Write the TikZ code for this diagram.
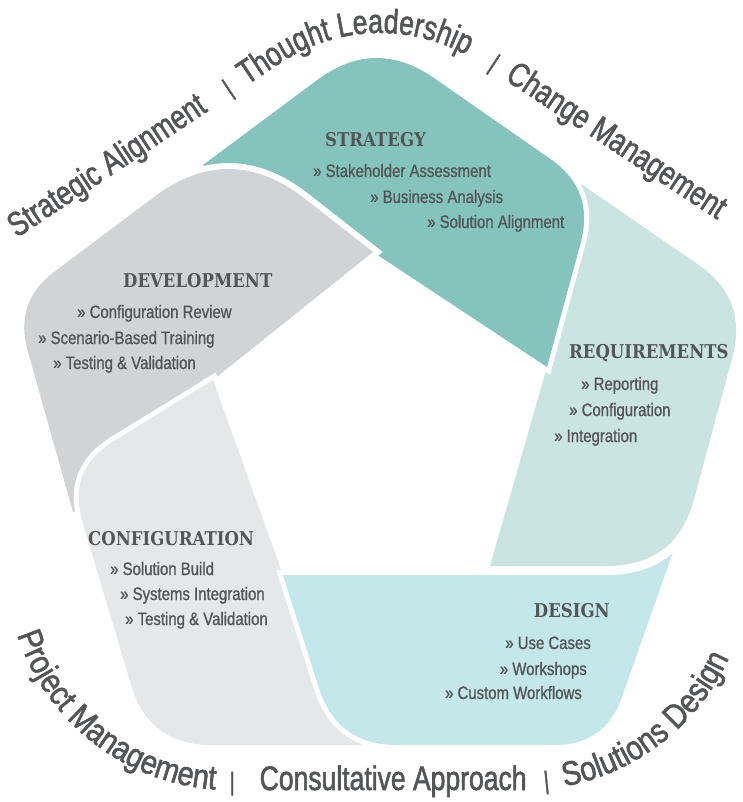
\documentclass[tikz,border=0pt]{standalone}
\usepackage{fontspec}
\usetikzlibrary{calc,decorations.text}
\newfontfamily\arcfont[FakeStretch=0.78,FakeBold=1.6]{Liberation Sans}
\newfontfamily\arcfontw[FakeStretch=0.85,FakeBold=1.6]{Liberation Sans}
\newfontfamily\itemfont[FakeStretch=0.83,FakeBold=0.9]{Liberation Sans}
\newfontfamily\headfont[FakeStretch=0.87]{DejaVu Serif}
\definecolor{txtc}{HTML}{545557}
\definecolor{cstrat}{HTML}{84C4BD}
\definecolor{creq}{HTML}{CAE4E1}
\definecolor{cdes}{HTML}{C4E7EA}
\definecolor{cconf}{HTML}{E6E7E8}
\definecolor{cdev}{HTML}{D1D3D4}
% rounded corner at #2 between #1 and #3, inset #4, control #5
\def\rc#1#2#3#4#5{-- ($(#2)!#4pt!(#1)$) .. controls ($(#2)!#5pt!(#1)$) and ($(#2)!#5pt!(#3)$) .. ($(#2)!#4pt!(#3)$)}
\def\arcf{\arcfont\fontsize{34}{36}\selectfont}
\def\arcfw{\arcfontw\fontsize{34}{36}\selectfont}
\def\barf{\arcfont\fontsize{25}{27}\selectfont}
\begin{document}
\begin{tikzpicture}[x=1pt,y=-1pt,
  head/.style={anchor=base west, inner sep=0pt, text=txtc, font=\headfont\bfseries\fontsize{19}{21}\selectfont},
  itm/.style={anchor=base west, inner sep=0pt, text=txtc, font=\itemfont\fontsize{18}{20}\selectfont},
  halo/.style={fill=white, draw=white, line width=#1},
  arctext/.style 2 args={decorate, decoration={text along path, text color=txtc, text={|\arcf|#2}, text align={left indent=#1}}},
  arctextw/.style 2 args={decorate, decoration={text along path, text color=txtc, text={|\arcfw|#2}, text align={left indent=#1}}},
  arcbar/.style={decorate, decoration={text along path, text color=txtc, text format delimiters={[}{]}, text={[\barf]|}, text align={left indent=#1}}}]
\useasboundingbox (0,0) rectangle (743,802);
% strategy
\coordinate (SL) at (203,165);
\coordinate (ST) at (375,37);
\coordinate (SR) at (595,190);
\coordinate (SB) at (547,367);
\coordinate (SD) at (373,252);
\coordinate (SU1) at (300,215);
\coordinate (SU2) at (215,180);
% development
\coordinate (DT) at (230,140);
\coordinate (DL) at (14,302);
\coordinate (DB) at (73,512);
\coordinate (DU) at (120,500);
\coordinate (CT) at (213,380);
% configuration
\coordinate (CL) at (67,470);
\coordinate (CBL) at (149,745);
\coordinate (CBR) at (363,745);
\coordinate (CU) at (335,690);
\coordinate (DTL) at (283,575);
% design
\coordinate (EU) at (600,575);
\coordinate (ETR) at (678,538);
\coordinate (EBR) at (605,745);
\coordinate (EBL) at (337,745);
% requirements
\coordinate (RBL) at (490,566);
\coordinate (RU1) at (549,360);
\coordinate (RU2) at (565,230);
\coordinate (RTL) at (555,166);
\coordinate (RTR) at (748,299);
\coordinate (RBR) at (676,566);

\def\strpath{(SL) \rc{SL}{ST}{SR}{72}{24} \rc{ST}{SR}{SB}{55}{18} -- (SB) -- (SD) -- (SU1) -- (SU2) -- cycle}
\def\devpath{(SD) \rc{SD}{DT}{DL}{95}{32} \rc{DT}{DL}{DB}{50}{17} -- (DB) -- (DU) -- (CT) -- cycle}
\def\confpath{(CT) \rc{CT}{CL}{CBL}{55}{18} \rc{CL}{CBL}{CBR}{62}{21} -- (CBR) -- (CU) -- (DTL) -- cycle}
\def\despath{(DTL) -- (EU) -- (ETR) \rc{ETR}{EBR}{EBL}{50}{17} \rc{EBR}{EBL}{DTL}{60}{20} -- cycle}
\def\reqpath{(RBL) -- (RU1) -- (RU2) -- (RTL) \rc{RTL}{RTR}{RBR}{60}{20} \rc{RTR}{RBR}{RBL}{70}{23} -- cycle}

\fill[cstrat] \strpath;
\path[halo=12pt] \devpath; \fill[cdev] \devpath;
\path[halo=10pt] \confpath; \fill[cconf] \confpath;
\path[halo=10pt] \despath; \fill[cdes] \despath;
\path[halo=18pt] \reqpath; \fill[creq] \reqpath;
\begin{scope}
  \clip (470,0) rectangle (743,420);
  \path[halo=10pt] \strpath; \fill[cstrat] \strpath;
\end{scope}

% texts
\node[head] (hstrat) at (325,147) {STRATEGY};
\node[itm] (s1) at (313,177) {» Stakeholder Assessment};
\node[itm] (s2) at (370,203) {» Business Analysis};
\node[itm] (s3) at (427,228) {» Solution Alignment};

\node[head] (hdev) at (123,287) {DEVELOPMENT};
\node[itm] (d1) at (77,318) {» Configuration Review};
\node[itm] (d2) at (38,344) {» Scenario-Based Training};
\node[itm] (d3) at (53,369) {» Testing \& Validation};

\node[head] (hreq) at (569,358) {REQUIREMENTS};
\node[itm] (r1) at (581,390) {» Reporting};
\node[itm] (r2) at (569,416) {» Configuration};
\node[itm] (r3) at (554,442) {» Integration};

\node[head] (hconf) at (88,545) {CONFIGURATION};
\node[itm] (c1) at (110,575) {» Solution Build};
\node[itm] (c2) at (120,600) {» Systems Integration};
\node[itm] (c3) at (125,625) {» Testing \& Validation};

\node[head, anchor=base east] (hdes) at (610,617) {DESIGN};
\node[itm, anchor=base east] (e1) at (591,649) {» Use Cases};
\node[itm, anchor=base east] (e2) at (587,675) {» Workshops};
\node[itm, anchor=base east] (e3) at (582,699) {» Custom Workflows};

% arc texts
\def\toparc{(17,238) -- (280.9,62.7) arc[start angle=236.6, end angle=303.4, radius=180] -- (729.6,227.8)}
\def\botarc{(17.2,634.9) arc[start angle=161.9, end angle=90, radius=225] -- (524,790) arc[start angle=90, end angle=15, radius=225]}
\path[arctext={0pt}{Strategic Alignment}] \toparc;
\path[arcbar=256pt] \toparc;
\path[arctext={276pt}{Thought Leadership}] \toparc;
\path[arcbar=537pt] \toparc;
\path[arctext={557pt}{Change Management}] \toparc;

\path[arctextw={0pt}{Project Management}] \botarc;
\path[arcbar=281pt] \botarc;
\path[arctext={311pt}{Consultative Approach}] \botarc;
\path[arcbar=596pt] \botarc;
\path[arctextw={616pt}{Solutions Design}] \botarc;
\end{tikzpicture}
\end{document}
